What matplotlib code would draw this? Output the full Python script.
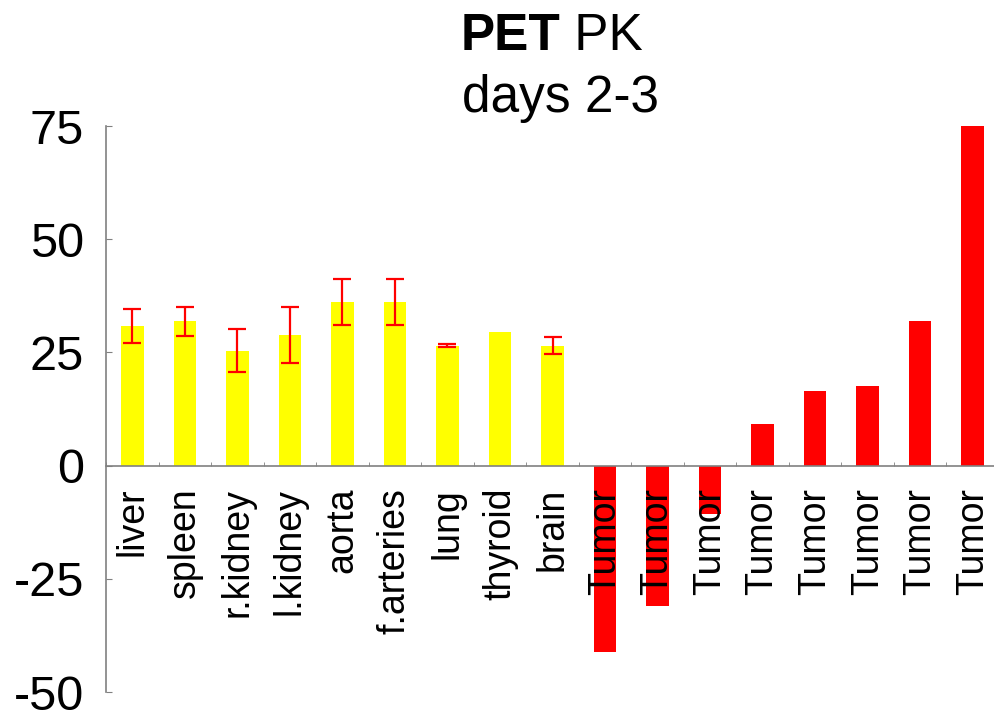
import numpy as np
import matplotlib.pyplot as plt
from matplotlib.ticker import FixedLocator

plt.rcParams["font.family"] = ["Liberation Sans", "DejaVu Sans"]

# organ uptake (with spread) followed by individual tumors
organ_labels = ["liver", "spleen", "r.kidney", "l.kidney", "aorta", "f.arteries", "lung", "thyroid", "brain"]
organ_values = [30.8, 31.9, 25.4, 28.9, 36.1, 36.1, 26.5, 29.6, 26.5]
organ_errors = [3.8, 3.2, 4.7, 6.2, 5.0, 5.0, 0.3, np.nan, 1.9]
tumor_labels = ["Tumor"] * 8
tumor_values = [-41.2, -31.0, -10.7, 9.2, 16.4, 17.5, 31.9, 75.0]
y_ticks = [-50, -25, 0, 25, 50, 75]

GREY = "#808080"

fig = plt.figure(figsize=(9.94, 7.22), dpi=100)
ax = fig.add_axes([106 / 994, 1 - 692 / 722, 893 / 994, 566 / 722])

labels = organ_labels + tumor_labels
n_organ = len(organ_values)
x_organ = np.arange(n_organ)
x_tumor = np.arange(n_organ, n_organ + len(tumor_values))

ax.bar(x_organ, organ_values, width=0.43, color="#FFFF00", zorder=1)
ax.bar(x_tumor, tumor_values, width=0.43, color="#FF0000", zorder=1)

err = np.array(organ_errors)
has_err = ~np.isnan(err)
ax.errorbar(x_organ[has_err], np.array(organ_values)[has_err], yerr=err[has_err],
            fmt="none", ecolor="#FF0000", elinewidth=1.6, capsize=6.5, capthick=1.6, zorder=3)

ax.set_xlim(-0.5, len(labels) - 0.5)
ax.set_ylim(-50, 75)

for side in ("top", "right"):
    ax.spines[side].set_visible(False)
ax.spines["bottom"].set_position(("data", 0))
for side in ("bottom", "left"):
    ax.spines[side].set_color(GREY)
    ax.spines[side].set_linewidth(1.2)

ax.set_yticks(y_ticks)
ax.set_yticklabels([str(v) for v in y_ticks])
ax.tick_params(axis="y", direction="in", length=4, color=GREY, pad=16, labelsize=35)

ax.set_xticks(np.arange(len(labels)))
ax.set_xticklabels(labels, rotation=90, fontsize=27)
ax.tick_params(axis="x", which="major", length=0, pad=16)
ax.xaxis.set_minor_locator(FixedLocator(np.arange(len(labels) + 1) - 0.5))
ax.tick_params(axis="x", which="minor", direction="in", length=3, color=GREY)

title_x = 560 / 994
fig.text(title_x, 1 - 50 / 722, "PET", ha="right", va="baseline", fontsize=37, fontweight="bold")
fig.text(title_x, 1 - 50 / 722, " PK", ha="left", va="baseline", fontsize=37)
fig.text(560 / 994, 1 - 112 / 722, "days 2-3", ha="center", va="baseline", fontsize=37)

fig.savefig("out.png", dpi=100)
